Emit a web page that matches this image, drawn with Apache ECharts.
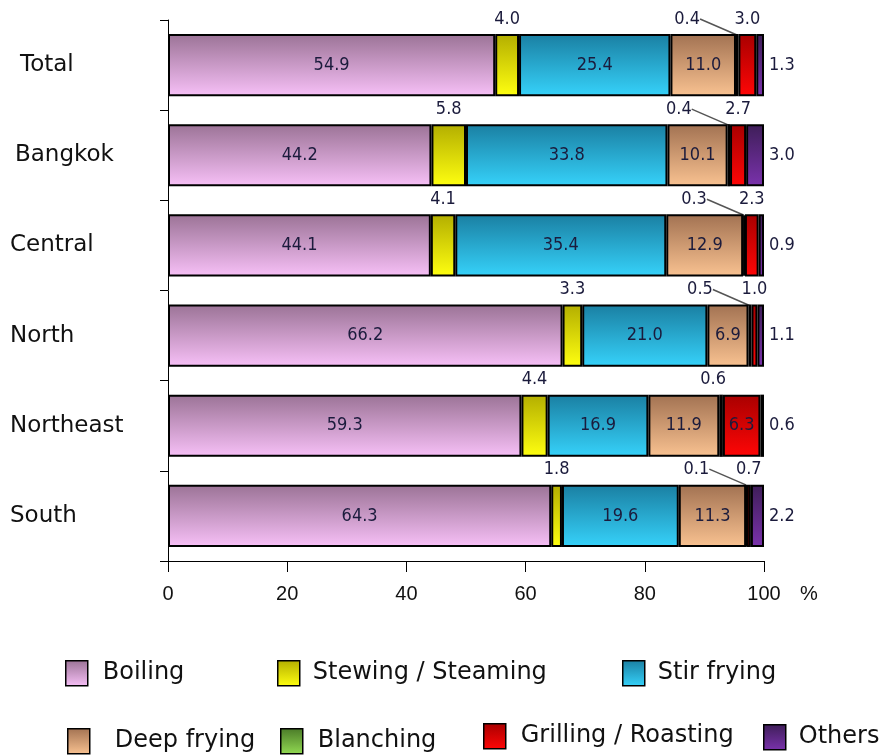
<!DOCTYPE html>
<html>
<head>
<meta charset="utf-8">
<script src="https://cdn.jsdelivr.net/npm/echarts@6/dist/echarts.min.js"></script>
<style>html,body{margin:0;padding:0;background:#fff;}#c{width:879px;height:755px;}</style>
</head>
<body>
<div id="c"></div>
<script>
const categories = ['Total', 'Bangkok', 'Central', 'North', 'Northeast', 'South'];
const seriesNames = ['Boiling', 'Stewing / Steaming', 'Stir frying', 'Deep frying', 'Blanching', 'Grilling / Roasting', 'Others'];
const boiling    = [54.9, 44.2, 44.1, 66.2, 59.3, 64.3];
const stewing    = [4.0, 5.8, 4.1, 3.3, 4.4, 1.8];
const stirFrying = [25.4, 33.8, 35.4, 21.0, 16.9, 19.6];
const deepFrying = [11.0, 10.1, 12.9, 6.9, 11.9, 11.3];
const blanching  = [0.4, 0.4, 0.3, 0.5, 0.6, 0.1];
const grilling   = [3.0, 2.7, 2.3, 1.0, 6.3, 0.7];
const others     = [1.3, 3.0, 0.9, 1.1, 0.6, 2.2];
const xTicks = [0, 20, 40, 60, 80, 100];

const colorPairs = [
  ['#9b7396', '#f7c0f7'],
  ['#b3ae00', '#ffff10'],
  ['#1a7fa2', '#36d2fa'],
  ['#a27252', '#f9c291'],
  ['#4a7a28', '#92da52'],
  ['#a80000', '#ff0606'],
  ['#3e1e58', '#7a32ac']
];
function grad(p) {
  return {type: 'linear', x: 0, y: 0, x2: 0, y2: 1,
    colorStops: [{offset: 0, color: p[0]}, {offset: 1, color: p[1]}]};
}
const valFont = {fontFamily: '"DejaVu Sans Condensed", "DejaVu Sans", sans-serif', fontSize: 18, color: '#1b1b3c'};
const fmt = p => Number(p.value).toFixed(1);

function mk(idx, data, label, extra) {
  return Object.assign({
    name: seriesNames[idx], type: 'bar', stack: 'all', barCategoryGap: '31%',
    itemStyle: {color: grad(colorPairs[idx]), borderColor: '#000', borderWidth: 2},
    label: Object.assign({show: true, formatter: fmt}, valFont, label),
    emphasis: {disabled: true},
    data: data
  }, extra || {});
}

const series = [
  mk(0, boiling, {position: 'inside'}),
  mk(1, stewing, {position: 'top', distance: 6}),
  mk(2, stirFrying, {position: 'inside'}),
  mk(3, deepFrying, {position: 'inside'}),
  mk(4, blanching.map((v, i) => i === 4 ? {value: v, labelLine: {show: false}} : v), {position: 'top', distance: 6}, {
    labelLayout: function (p) { return p.dataIndex === 4 ? {dx: -8} : {dx: -50}; },
    labelLine: {show: true, lineStyle: {color: '#555', width: 1.5}}
  }),
  mk(5, grilling.map((v, i) => i === 4 ? {value: v, label: {position: 'inside'}} : v), {position: 'top', distance: 6}),
  mk(6, others, {position: 'right', distance: 5})
];

const legendFont = {fontFamily: '"DejaVu Sans", sans-serif', fontSize: 24, color: '#111'};
const legendPos = [
  [65, 660, 10], [277, 660, 8], [622, 660, 8],
  [67, 728, 20], [280, 728, 10], [483, 723, 10], [763, 724, 8]
];
const legends = seriesNames.map((n, i) => ({
  data: [n], left: legendPos[i][0], top: legendPos[i][1], padding: 0,
  itemWidth: 22, itemHeight: 25, selectedMode: false, icon: 'rect',
  itemStyle: {borderColor: '#000', borderWidth: 1.5},
  textStyle: Object.assign({padding: [0, 0, 0, legendPos[i][2]]}, legendFont)
}));

const labelIndent = [10, 5, 0, 0, 0, 0];
const catFont = {fontFamily: '"DejaVu Sans", sans-serif', fontSize: 23, color: '#111', align: 'left'};

const chart = echarts.init(document.getElementById('c'));
chart.setOption({
  animation: false,
  backgroundColor: '#fff',
  grid: {left: 168, right: 115, top: 20, bottom: 194, containLabel: false, outerBoundsMode: 'none'},
  legend: legends,
  xAxis: {
    type: 'value', min: 0, max: 100, interval: 20,
    name: '%', nameLocation: 'end', nameGap: 36,
    nameTextStyle: {fontFamily: '"Liberation Sans", sans-serif', fontSize: 20, color: '#111', verticalAlign: 'top', padding: [23, 0, 0, 0]},
    axisLine: {show: true, lineStyle: {color: '#000', width: 1}},
    axisTick: {show: true, length: 11, lineStyle: {color: '#000'}},
    axisLabel: {margin: 23, fontFamily: '"Liberation Sans", sans-serif', fontSize: 20, color: '#111',
      formatter: v => xTicks.indexOf(v) >= 0 ? String(v) : ''},
    splitLine: {show: false}
  },
  yAxis: {
    type: 'category', inverse: true,
    data: categories.map((c, i) => ({value: c, textStyle: Object.assign({padding: [0, 0, 0, labelIndent[i]]}, catFont)})),
    axisLine: {show: true, lineStyle: {color: '#000', width: 1}},
    axisTick: {show: true, length: 8, lineStyle: {color: '#000'}},
    axisLabel: Object.assign({margin: 158}, catFont)
  },
  series: series
});
</script>
</body>
</html>
